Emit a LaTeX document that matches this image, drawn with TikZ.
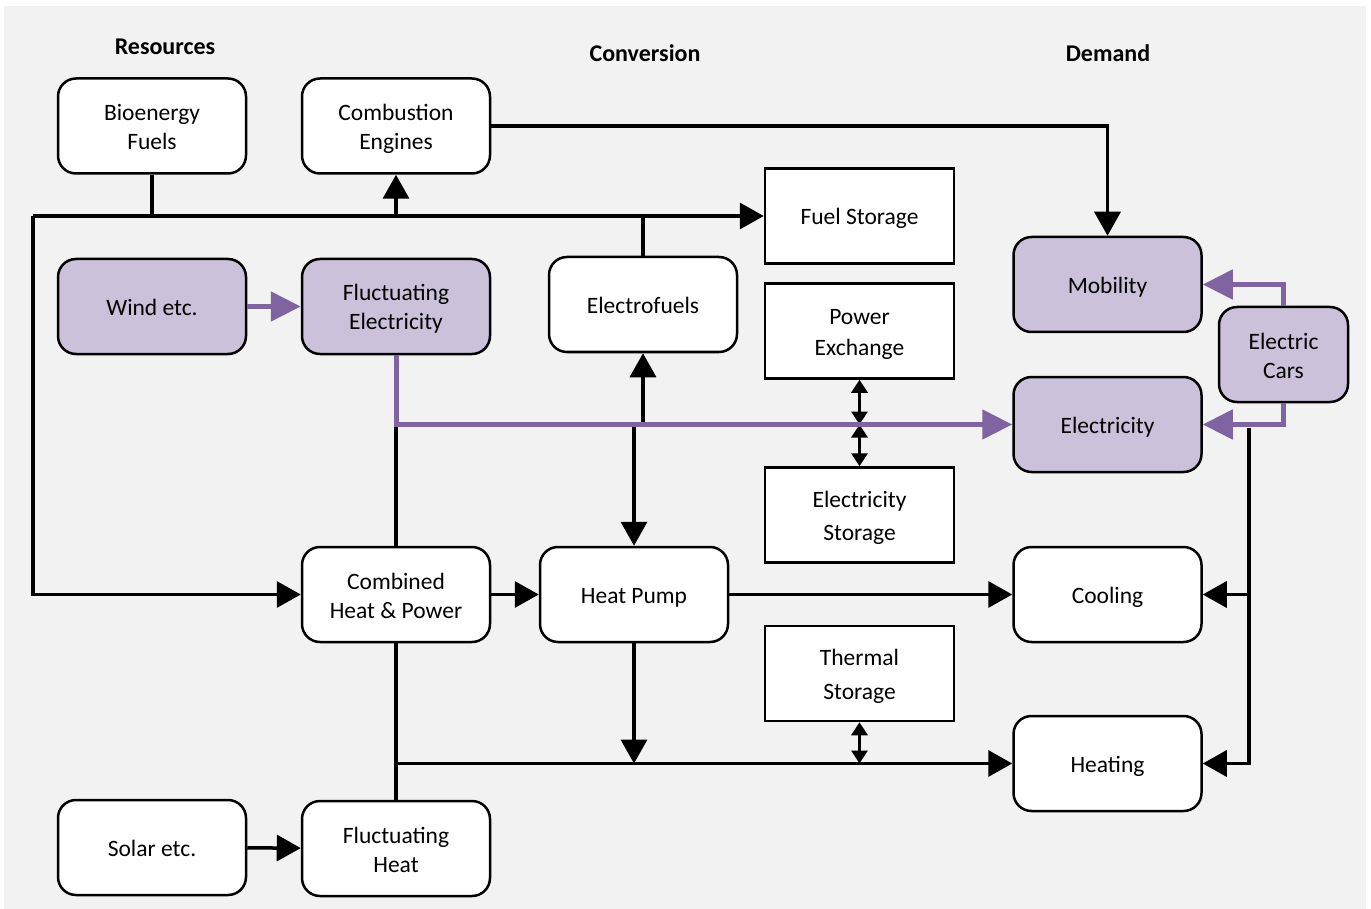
\documentclass[tikz,border=0pt]{standalone}
\usepackage{fontspec}
\setmainfont{Carlito}
\usetikzlibrary{arrows.meta}
\definecolor{bgc}{HTML}{F2F2F2}
\definecolor{lav}{HTML}{CCC1DA}
\definecolor{pur}{HTML}{8064A2}
% box text with a fixed height above the first baseline and depth below the last one
\newcommand\nodetxt[1]{\rule{0pt}{24pt}#1\rule[-6pt]{0pt}{0pt}}
\tikzset{
  box/.style={draw=black, line width=2.5pt, fill=white, rounded corners=18pt,
    minimum width=188pt, minimum height=95pt, align=center, inner sep=0pt,
    font=\fontsize{23.5}{29}\selectfont},
  lbox/.style={box, fill=lav},
  sbox/.style={box, rounded corners=0pt, minimum width=189pt},
  hdr/.style={font=\fontsize{24}{28}\selectfont\bfseries},
  ln/.style={draw=black, line width=3.5pt},
  pl/.style={draw=pur, line width=5pt},
  arr/.style={-{Triangle[length=24pt,width=26pt]}},
  parr/.style={-{Triangle[length=30pt,width=29pt]}},
  darr/.style={{Triangle[length=13pt,width=16pt]}-{Triangle[length=13pt,width=16pt]}, line width=3pt},
}
\begin{document}
\begin{tikzpicture}[x=1pt,y=-1pt]
\useasboundingbox (0,0) rectangle (1371,909);
\fill[bgc] (4,6) rectangle (1366,909);

% column headings
\node[hdr] (hres) at (165,47) {Resources};
\node[hdr] (hcon) at (645,53) {Conversion};
\node[hdr] (hdem) at (1108,53) {Demand};

% resources
\node[box]  (bio)   at (152,126)   {\nodetxt{Bioenergy\\Fuels}};
\node[lbox] (wind)  at (152,306.5) {\nodetxt{Wind etc.}};
\node[box]  (solar) at (152,847.5) {\nodetxt{Solar etc.}};

% conversion
\node[box]  (ce)    at (396,126)   {\nodetxt{Combustion\\Engines}};
\node[lbox] (fel)   at (396,306.5) {\nodetxt{Fluctuating\\Electricity}};
\node[box]  (efuel) at (643,304.5) {\nodetxt{Electrofuels}};
\node[box]  (chp)   at (396,594.5) {\nodetxt{Combined\\Heat \& Power}};
\node[box]  (hp)    at (634,594.5) {\nodetxt{Heat Pump}};
\node[box]  (fheat) at (396,848.5) {\nodetxt{Fluctuating\\Heat}};

% storages
\node[sbox] (fuelst) at (859.5,216)   {\nodetxt{Fuel Storage}};
\node[sbox, font=\fontsize{23.5}{31}\selectfont] (powex) at (859.5,331) {\nodetxt{Power\\Exchange}};
\node[sbox, font=\fontsize{23.5}{33}\selectfont] (elst) at (859.5,515) {\nodetxt{Electricity\\Storage}};
\node[sbox, font=\fontsize{23.5}{34}\selectfont] (thst) at (859.5,673.5) {\nodetxt{Thermal\\Storage}};

% demand
\node[lbox] (mob)  at (1107.5,284.5) {\nodetxt{Mobility}};
\node[lbox] (elec) at (1107.5,424.5) {\nodetxt{Electricity}};
\node[box]  (cool) at (1107.5,594.5) {\nodetxt{Cooling}};
\node[box]  (heat) at (1107.5,763.5) {\nodetxt{Heating}};
\node[lbox, minimum width=129pt] (ecar) at (1283.5,354.5) {\nodetxt{Electric\\Cars}};

% fuel bus
\coordinate (busL) at (33,216);
\coordinate (rtop) at (1249,428);
\draw[ln] (bio.south) -- (bio.south |- busL);
\draw[ln] (efuel.north) -- (efuel.north |- busL);
\draw[ln,arr] (ce.south |- busL) -- (ce.south);
\draw[ln,arr] (busL) -- (fuelst.west);
\draw[ln,arr] (busL) |- (chp.west);
\draw[ln,arr] (ce.east) -| (mob.north);

% electricity
\draw[ln] (chp.north) -- (chp.north |- elec.west);
\draw[ln,arr] (efuel.south |- elec.west) -- (efuel.south);
\draw[ln,arr] (hp.north |- elec.west) -- (hp.north);
\draw[ln,darr] (powex.south) -- (powex.south |- elec.west);
\draw[ln,darr] (elst.north) -- (elst.north |- elec.west);
\draw[pl,parr] (wind) -- (fel);
\draw[pl,parr] (fel.south) |- (elec.west);

% heat
\draw[ln,arr] (chp) -- (hp);
\draw[ln,arr] (hp) -- (cool);
\draw[ln] (chp.south) -- (fheat.north);
\draw[ln,arr] (chp.south |- heat.west) -- (heat.west);
\draw[ln,arr] (hp.south) -- (hp.south |- heat.west);
\draw[ln,darr] (thst.south) -- (thst.south |- heat.west);
\draw[ln,arr] (solar) -- (fheat);

% electricity to cooling and heating
\draw[ln,arr] (rtop) |- (heat.east);
\draw[ln,arr] (rtop |- cool.east) -- (cool.east);

% electric cars
\draw[pl,parr] (ecar.north) |- (mob.east);
\draw[pl,parr] (ecar.south) |- (elec.east);
\end{tikzpicture}
\end{document}
